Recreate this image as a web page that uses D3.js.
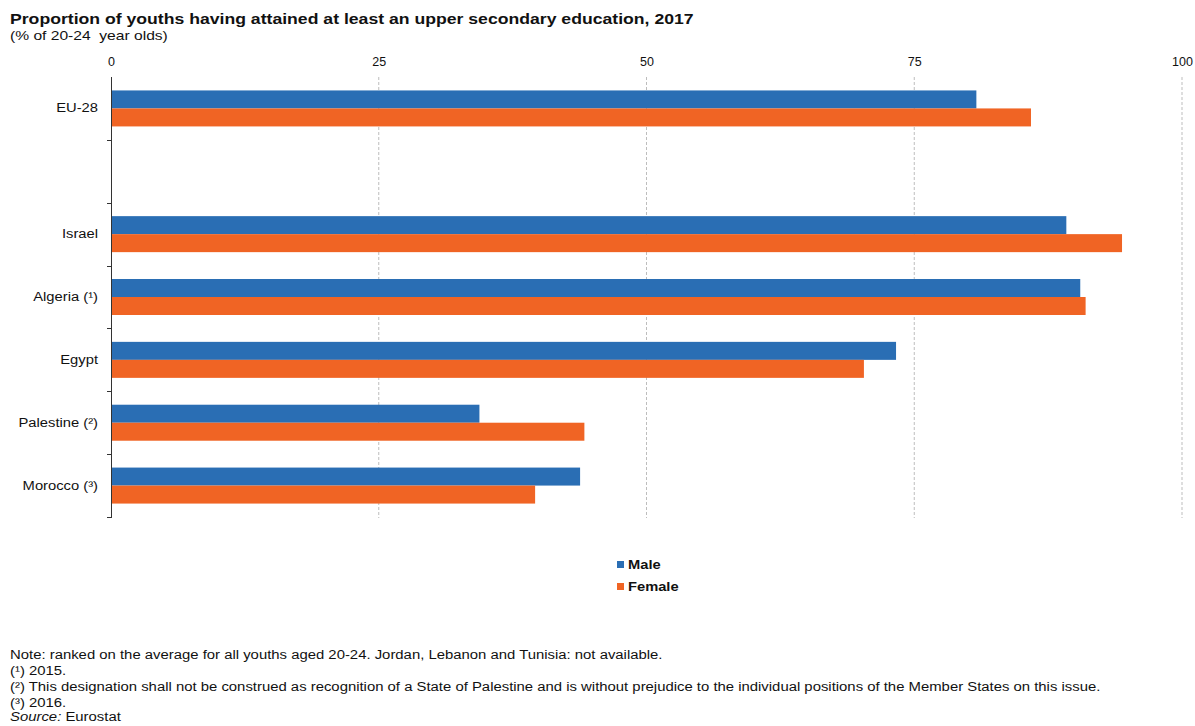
<!DOCTYPE html>
<html><head><meta charset="utf-8">
<script src="https://cdn.jsdelivr.net/npm/d3@7"></script>
<style>
body{margin:0;background:#fff;font-family:"Liberation Sans",Arial,sans-serif;}
svg{display:block;}
text{white-space:pre;}
</style></head>
<body><svg id="chart" width="1195" height="726"></svg>
<script>
const categories = ["EU-28", "", "Israel", "Algeria (¹)", "Egypt", "Palestine (²)", "Morocco (³)"];
const maleValues = [80.8, null, 89.2, 90.5, 73.3, 34.4, 43.8];
const femaleValues = [85.9, null, 94.4, 91.0, 70.3, 44.2, 39.6];
const seriesNames = ["Male", "Female"];
const xTicks = [0, 25, 50, 75, 100];
const title = "Proportion of youths having attained at least an upper secondary education, 2017";
const subtitle = "(% of 20-24  year olds)";
const notes = [
  "Note: ranked on the average for all youths aged 20-24. Jordan, Lebanon and Tunisia: not available.",
  "(¹) 2015.",
  "(²) This designation shall not be construed as recognition of a State of Palestine and is without prejudice to the individual positions of the Member States on this issue.",
  "(³) 2016."
];
const colors = {Male: "#2a6eb4", Female: "#f06424"};

function stretch(sel, factor) {
  sel.each(function(){
    const L = this.getComputedTextLength();
    d3.select(this).attr("textLength", L*factor).attr("lengthAdjust", "spacingAndGlyphs");
  });
}

const svg = d3.select("#chart");
const x = d3.scaleLinear().domain([0, 100]).range([111, 1182]);
const y = d3.scaleBand().domain(categories.map((c,i)=>i)).range([77, 517]).paddingInner(0).paddingOuter(0);
const inner = d3.scaleBand().domain(seriesNames).range([0, 36]);
const barOffset = (y.bandwidth() - 36) / 2;

// title
stretch(svg.append("text").attr("x", 10).attr("y", 24).attr("font-size", 15).attr("font-weight", "bold").attr("fill", "#111").text(title), 1.175);
stretch(svg.append("text").attr("x", 10).attr("y", 40).attr("font-size", 13).attr("fill", "#111").text(subtitle), 1.2);

// gridlines
svg.append("g").selectAll("line").data(xTicks.filter(d=>d>0)).join("line")
  .attr("x1", d=>x(d)).attr("x2", d=>x(d)).attr("y1", 77).attr("y2", 518)
  .attr("stroke", "#bdbdbd").attr("stroke-width", 1).attr("stroke-dasharray", "3,2");

// top axis labels
const xAxis = d3.axisTop(x).tickValues(xTicks).tickSize(0).tickPadding(0);
const gx = svg.append("g").attr("transform", "translate(0,66)").call(xAxis);
gx.select(".domain").remove();
gx.selectAll("text").attr("font-size", 12.5).attr("font-family", "Liberation Sans, Arial, sans-serif").attr("fill", "#111");

// bars
const data = [];
categories.forEach((c,i)=>{
  if (maleValues[i] != null) data.push({i, s:"Male", v:maleValues[i]});
  if (femaleValues[i] != null) data.push({i, s:"Female", v:femaleValues[i]});
});
svg.append("g").selectAll("rect").data(data).join("rect")
  .attr("x", x(0)).attr("y", d=>y(d.i)+barOffset+inner(d.s))
  .attr("width", d=>x(d.v)-x(0)).attr("height", inner.bandwidth())
  .attr("fill", d=>colors[d.s]);

// y axis
const yAxis = d3.axisLeft(y).tickSize(0).tickPadding(13).tickFormat(i=>categories[i]);
const gy = svg.append("g").attr("transform", `translate(${x(0)},0)`).call(yAxis);
gy.select(".domain").attr("stroke", "#333").attr("d", `M0.5,77V518`);
gy.selectAll("text").attr("font-size", 12.5).attr("font-family", "Liberation Sans, Arial, sans-serif").attr("fill", "#111");
stretch(gy.selectAll("text"), 1.18);
// band boundary ticks
const bounds = categories.map((c,i)=>y(i)+y.bandwidth());
svg.append("g").selectAll("line").data(bounds).join("line")
  .attr("x1", x(0)-4).attr("x2", x(0)).attr("y1", d=>Math.round(d)+0.5).attr("y2", d=>Math.round(d)+0.5)
  .attr("stroke", "#333");

// legend
const lg = svg.append("g");
seriesNames.forEach((s,k)=>{
  const gy0 = 565 + k*22;
  lg.append("rect").attr("x", 617).attr("y", gy0-4).attr("width", 7).attr("height", 7).attr("fill", colors[s]);
  stretch(lg.append("text").attr("x", 628).attr("y", gy0+4).attr("font-size", 13).attr("font-weight", "bold").attr("fill", "#111").text(s), 1.13);
});

// notes
notes.forEach((n,k)=>{
  stretch(svg.append("text").attr("x", 10).attr("y", 659 + k*16).attr("font-size", 12.5).attr("fill", "#111").text(n), 1.19);
});
const src = svg.append("text").attr("x", 10).attr("y", 721).attr("font-size", 12.5).attr("fill", "#111");
src.append("tspan").attr("font-style", "italic").text("Source:");
src.append("tspan").text(" Eurostat");
stretch(src, 1.19);
</script></body></html>
